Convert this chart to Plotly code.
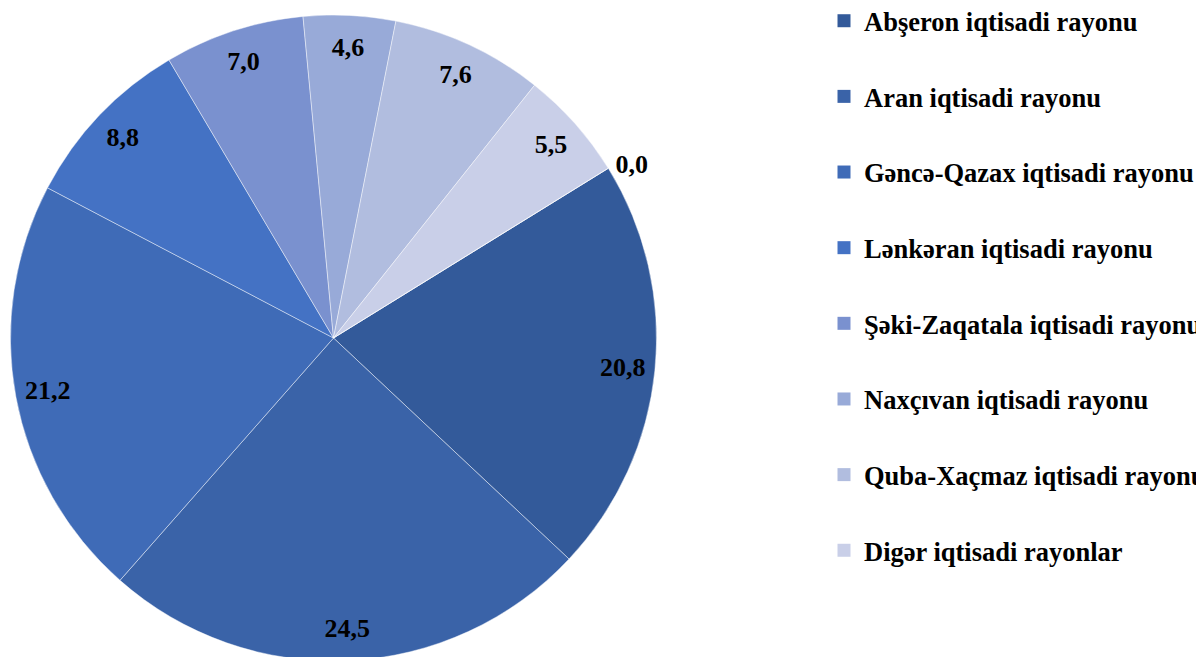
import plotly.graph_objects as go

# ---- data ----
categories = [
    "Abşeron iqtisadi rayonu",
    "Aran iqtisadi rayonu",
    "Gəncə-Qazax iqtisadi rayonu",
    "Lənkəran iqtisadi rayonu",
    "Şəki-Zaqatala iqtisadi rayonu",
    "Naxçıvan iqtisadi rayonu",
    "Quba-Xaçmaz iqtisadi rayonu",
    "Digər iqtisadi rayonlar",
    "Digər",
]
values = [20.8, 24.5, 21.2, 8.8, 7.0, 4.6, 7.6, 5.5, 0.0]
legend_labels = categories[:8]
colors = ["#335A9A", "#3A63A8", "#3F6BB7", "#4472C4", "#7A91CF",
          "#98AAD8", "#B1BDDF", "#C9CFE8", "#DCE1F1"]

value_text = [f"{v:.1f}".replace(".", ",") for v in values]

W, H = 1204, 657
OFF = 8                      # default page body margin
cx, cy, r = 333.5 - OFF, 338 - OFF, 323
dom_x = [(cx - r) / W, (cx + r) / W]
dom_y = [(H - (cy + r)) / H, (H - (cy - r)) / H]

font_family = "Liberation Serif, Times New Roman, serif"

fig = go.Figure()

# main pie
fig.add_trace(go.Pie(
    labels=categories, values=values,
    marker=dict(colors=colors, line=dict(color="rgba(255,255,255,0.55)", width=0.8)),
    sort=False, direction="clockwise", rotation=58.3,
    textinfo="none", showlegend=False, hoverinfo="label+value",
    domain=dict(x=dom_x, y=dom_y),
))

# label ring (transparent) to place value labels near the outer edge
fig.add_trace(go.Pie(
    labels=categories, values=values, hole=0.8,
    marker=dict(colors=["rgba(0,0,0,0)"] * len(values), line=dict(width=0)),
    sort=False, direction="clockwise", rotation=58.3,
    text=value_text, textinfo="text",
    textposition=["inside"] * 8 + ["outside"],
    insidetextorientation="horizontal",
    textfont=dict(family=font_family, size=26, color="black", weight="bold"),
    outsidetextfont=dict(family=font_family, size=26, color="black", weight="bold"),
    showlegend=False, hoverinfo="skip",
    domain=dict(x=dom_x, y=dom_y),
))

# legend entries
for lab, col in zip(legend_labels, colors):
    fig.add_trace(go.Scatter(
        x=[None], y=[None], mode="markers", name=lab, legendgroup=lab,
        marker=dict(symbol="square", size=13, color=col),
        showlegend=True, hoverinfo="skip",
    ))

fig.update_layout(
    width=W, height=H,
    margin=dict(l=0, r=0, t=0, b=0, autoexpand=False),
    paper_bgcolor="white", plot_bgcolor="white",
    xaxis=dict(visible=False), yaxis=dict(visible=False),
    legend=dict(
        x=816 / W, xanchor="left", y=1 + 11 / H, yanchor="top",
        traceorder="grouped", tracegroupgap=38.2,
        font=dict(family=font_family, size=26.5, color="black", weight="bold"),
        bgcolor="rgba(0,0,0,0)", itemclick=False,
    ),
)
try:
    fig.update_layout(legend_maxheight=H)
except Exception:
    fig.update_layout(legend_y=1)

fig.write_html("out.html")
